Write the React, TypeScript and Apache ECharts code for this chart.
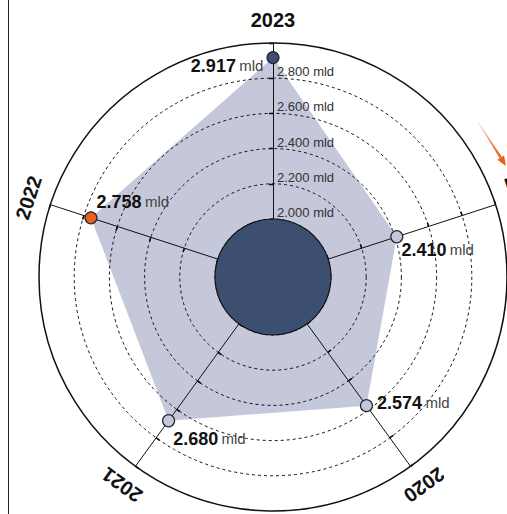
import React, { useEffect, useRef } from 'react';
import * as echarts from 'echarts';

// ---- data ----
const years = ['2023', '2022', '2021', '2020', '2019'];
const values = [2.917, 2.758, 2.68, 2.574, 2.41];
const axisMin = 2.0;
const axisMax = 3.0;
const splitCount = 5;
const unit = 'mld';

// ---- styles / layout ----
const W = 507;
const H = 514;
const CX = 273;
const CY = 277;
const R0 = 58;
const R1 = 234;
const R_LABEL = 257;
const FONT = "'Liberation Sans Narrow', 'Liberation Sans', Arial, sans-serif";
const FILL = '#c4c8da';
const DARK = '#3d4f70';
const ORANGE = '#e8601c';
const markerFills = [DARK, ORANGE, FILL, FILL, FILL];
const labelPlace: { position: string; offset: number[] }[] = [
  { position: 'left', offset: [2, 8] },
  { position: 'right', offset: [-6, -16] },
  { position: 'right', offset: [-7, 18] },
  { position: 'right', offset: [-1, -3] },
  { position: 'right', offset: [-7, 13] },
];

export default function App() {
  const ref = useRef<HTMLDivElement>(null);
  useEffect(() => {
    if (!ref.current) return;
    const chart = echarts.init(ref.current, undefined, { renderer: 'svg' });

    const indicatorsMain = years.map((y, i) => ({
      name: '',
      min: axisMin,
      max: axisMax,
      ...(i === 0
        ? {
            axisLabel: {
              show: true,
              margin: -4,
              align: 'left',
              verticalAlign: 'bottom',
              color: '#333',
              fontSize: 13,
              fontFamily: FONT,
              formatter: (v: number) => (v >= axisMax - 1e-6 ? '' : Number(v).toFixed(3) + ' ' + unit),
            },
          }
        : {}),
    }));
    const indicatorsPlain = years.map(() => ({ name: '', min: axisMin, max: axisMax }));

    const radarBase = {
      center: [CX, CY],
      radius: [R0, R1],
      startAngle: 90,
      shape: 'circle',
      splitNumber: splitCount,
      axisName: { show: false },
      splitArea: { show: false },
    };

    const yearLabels = years.map((y, i) => {
      const a = ((90 + i * (360 / years.length)) * Math.PI) / 180;
      return {
        type: 'text',
        x: CX + R_LABEL * Math.cos(a),
        y: CY - R_LABEL * Math.sin(a),
        rotation: a - Math.PI / 2,
        z: 10,
        style: {
          text: y,
          fontFamily: FONT,
          fontWeight: 'bold',
          fontSize: 20,
          fill: '#111',
          align: 'center',
          verticalAlign: 'middle',
        },
      };
    });

    // arrow geometry
    const ax0 = 479, ay0 = 123, tipX = 506, tipY = 166;
    const dx = tipX - ax0, dy = tipY - ay0;
    const len = Math.hypot(dx, dy);
    const ux = dx / len, uy = dy / len;
    const bx = tipX - 10 * ux, by = tipY - 10 * uy;
    const px = -uy, py = ux;

    const option: any = {
      animation: false,
      backgroundColor: '#fff',
      radar: [
        {
          ...radarBase,
          indicator: indicatorsMain,
          z: 2,
          axisLine: { show: true, lineStyle: { color: '#111', width: 1 } },
          axisTick: { show: true, length: 4, lineStyle: { color: '#111', width: 1.3 } },
          axisLabel: { show: false },
          splitLine: {
            show: true,
            lineStyle: {
              color: ['#111', '#111', '#111', '#111', '#111', 'rgba(0,0,0,0)'],
              width: 1,
              type: [3, 3],
            },
          },
        },
        {
          ...radarBase,
          indicator: indicatorsPlain,
          z: 2,
          axisLine: { show: false },
          axisTick: { show: true, inside: true, length: 4, lineStyle: { color: '#111', width: 1.3 } },
          axisLabel: { show: false },
          splitLine: {
            show: true,
            lineStyle: {
              color: ['rgba(0,0,0,0)', 'rgba(0,0,0,0)', 'rgba(0,0,0,0)', 'rgba(0,0,0,0)', 'rgba(0,0,0,0)', '#111'],
              width: 1.5,
              type: 'solid',
            },
          },
        },
      ],
      series: [
        {
          type: 'radar',
          radarIndex: 0,
          z: 1,
          silent: true,
          symbol: 'none',
          lineStyle: { width: 0, opacity: 0 },
          areaStyle: { color: FILL, opacity: 1 },
          data: [{ value: values }],
        },
        {
          type: 'radar',
          radarIndex: 0,
          z: 3,
          silent: true,
          symbol: 'circle',
          symbolSize: 12,
          lineStyle: { width: 0, opacity: 0 },
          data: values.map((v, i) => ({
            value: years.map((_, j) => (j === i ? v : '-')),
            itemStyle: { color: markerFills[i], borderColor: '#1d2738', borderWidth: 1.2 },
            label: {
              show: true,
              position: labelPlace[i].position,
              offset: labelPlace[i].offset,
              distance: 5,
              formatter: (p: any) => {
                const val = p.value;
                if (typeof val !== 'number' || isNaN(val)) return '';
                return '{b|' + val.toFixed(3) + '} {m|' + unit + '}';
              },
              rich: {
                b: { fontFamily: FONT, fontWeight: 'bold', fontSize: 18, color: '#111' },
                m: { fontFamily: FONT, fontSize: 15, color: '#444' },
              },
            },
          })),
        },
        {
          type: 'pie',
          z: 4,
          silent: true,
          center: [CX, CY],
          radius: [0, R0],
          label: { show: false },
          labelLine: { show: false },
          itemStyle: { color: DARK, borderColor: '#111', borderWidth: 1.2 },
          data: [{ value: 1, name: 'core' }],
        },
      ],
      graphic: [
        {
          type: 'line',
          shape: { x1: 8.5, y1: 0, x2: 8.5, y2: H },
          style: { stroke: '#222', lineWidth: 1 },
        },
        {
          type: 'polygon',
          shape: {
            points: [
              [ax0, ay0],
              [ax0 + 0.6 * px, ay0 + 0.6 * py],
              [bx + 1.3 * px, by + 1.3 * py],
              [bx - 1.3 * px, by - 1.3 * py],
            ],
          },
          style: {
            fill: {
              type: 'linear', x: 0, y: 0, x2: 1, y2: 1,
              colorStops: [
                { offset: 0, color: 'rgba(232,96,28,0.3)' },
                { offset: 1, color: ORANGE },
              ],
            },
          },
        },
        {
          type: 'polygon',
          shape: {
            points: [
              [tipX, tipY],
              [bx + 4 * px, by + 4 * py],
              [bx - 4 * px, by - 4 * py],
            ],
          },
          style: { fill: ORANGE },
        },
        ...yearLabels,
      ],
    };
    chart.setOption(option);
    return () => chart.dispose();
  }, []);
  return (
    <div
      ref={ref}
      style={{ position: 'absolute', left: 0, top: 0, width: W, height: H }}
    />
  );
}
